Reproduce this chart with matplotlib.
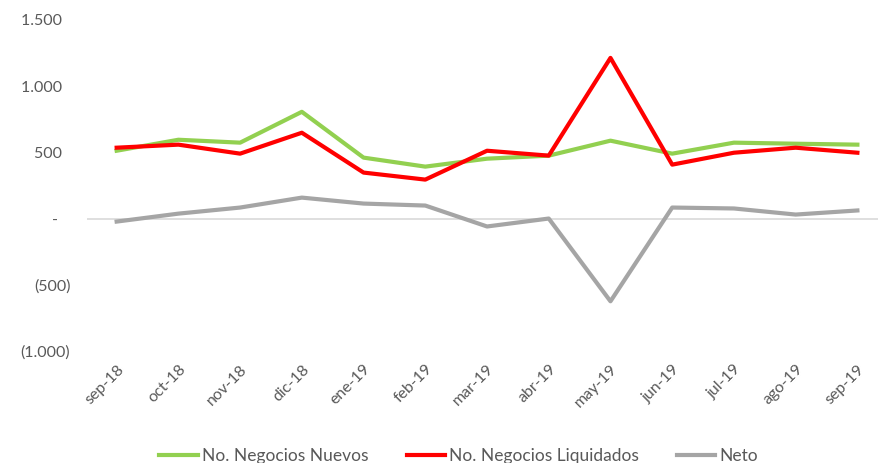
import matplotlib
matplotlib.use("Agg")
import matplotlib.pyplot as plt
from matplotlib.ticker import FuncFormatter

meses = ['sep-18', 'oct-18', 'nov-18', 'dic-18', 'ene-19', 'feb-19', 'mar-19',
         'abr-19', 'may-19', 'jun-19', 'jul-19', 'ago-19', 'sep-19']
nuevos = [512, 595, 573, 806, 460, 392, 452, 475, 588, 490, 573, 565, 558]
liquidados = [535, 558, 490, 648, 347, 294, 512, 475, 1213, 407, 497, 535, 497]
neto = [-23, 37, 83, 158, 113, 98, -60, 0, -625, 83, 76, 30, 61]

plt.rcParams['font.family'] = ['Lato', 'DejaVu Sans']

fig = plt.figure(figsize=(8.79, 4.63), dpi=100)
ax = fig.add_axes([0.099, 0.242, 0.901, 0.715])

x = list(range(len(meses)))
ax.axhline(0, color='#d9d9d9', lw=1.2, zorder=1)
ax.plot(x, nuevos, color='#92D050', lw=3, label='No. Negocios Nuevos', zorder=3)
ax.plot(x, liquidados, color='#FF0000', lw=3, label='No. Negocios Liquidados', zorder=4)
ax.plot(x, neto, color='#A5A5A5', lw=3, label='Neto', zorder=2)


# formato contable: miles con punto, negativos entre parentesis
def fmt(v, pos):
    if v == 0:
        return '-   '
    s = '{:,.0f}'.format(abs(v)).replace(',', '.')
    return '(' + s + ')' if v < 0 else s + '  '


ax.yaxis.set_major_formatter(FuncFormatter(fmt))
ax.set_ylim(-1000, 1500)
ax.set_yticks([-1000, -500, 0, 500, 1000, 1500])
ax.set_xlim(-0.48, 12.35)
ax.set_xticks(x)
ax.set_xticklabels(meses, rotation=45, ha='right', rotation_mode='anchor')

for s in ax.spines.values():
    s.set_visible(False)
ax.tick_params(length=0, colors='#595959', labelsize=11.5)
ax.tick_params(axis='y', pad=12)
ax.tick_params(axis='x', pad=8)

fig.legend(loc='lower center', ncol=3, frameon=False, fontsize=12.5,
           bbox_to_anchor=(0.522, -0.035), handlelength=2.2, handletextpad=0.25,
           columnspacing=2.2, labelcolor='#595959')

fig.savefig('out.png', dpi=100)
